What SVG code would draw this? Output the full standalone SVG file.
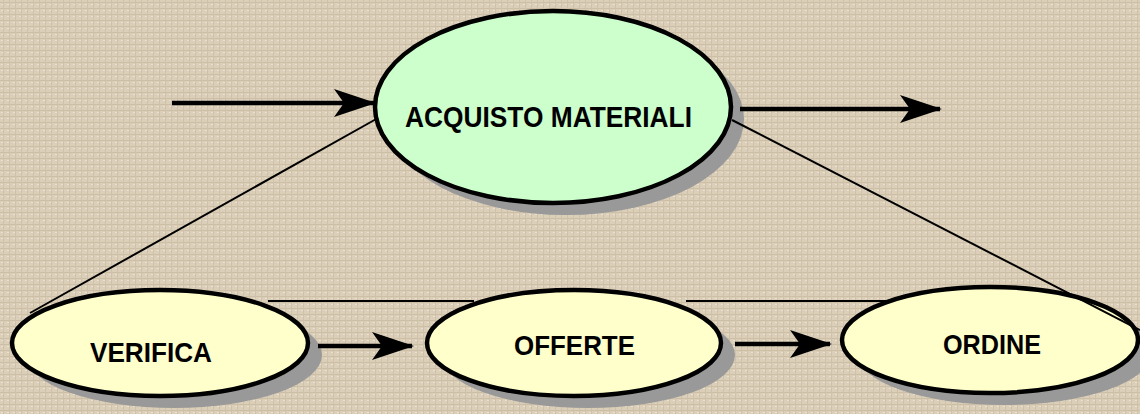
<svg xmlns="http://www.w3.org/2000/svg" width="1140" height="414" viewBox="0 0 1140 414">
<defs>
<pattern id="tex" width="6" height="6" patternUnits="userSpaceOnUse">
<rect width="6" height="6" fill="#dccfb9"/>
<rect x="0" y="2" width="6" height="1" fill="#cdbfa6"/>
<rect x="3" y="0" width="1" height="6" fill="#cfc2aa"/>
<rect x="1" y="4" width="2" height="1" fill="#ebe1ce"/>
</pattern>
<marker id="ah" markerUnits="userSpaceOnUse" markerWidth="42" markerHeight="28" refX="40" refY="14" orient="auto" viewBox="0 0 42 28">
<path d="M0,0 L42,14 L0,28 L10,14 z" fill="#000"/>
</marker>
</defs>
<style>
.sh{fill:#999999}
.top{fill:#ccffcc;stroke:#000;stroke-width:4.5}
.bot{fill:#ffffcc;stroke:#000;stroke-width:4.5}
.lbl{font-family:"Liberation Sans",Arial,sans-serif;font-weight:bold;fill:#000}
.ln{stroke:#000;stroke-width:2;fill:none}
.ar{stroke:#000;stroke-width:4.5;fill:none;marker-end:url(#ah)}
</style>
<rect width="1140" height="414" fill="url(#tex)"/>
<g id="acquisto">
<ellipse class="sh" cx="566" cy="119" rx="178" ry="96"/>
<ellipse class="top" cx="553" cy="107" rx="178" ry="96"/>
<text class="lbl" x="405" y="127" font-size="30" textLength="287" lengthAdjust="spacingAndGlyphs">ACQUISTO MATERIALI</text>
</g>
<g id="verifica">
<ellipse class="sh" cx="174" cy="355" rx="148" ry="53"/>
<ellipse class="bot" cx="160" cy="343" rx="148" ry="53"/>
<text class="lbl" x="90" y="362" font-size="28" textLength="122" lengthAdjust="spacingAndGlyphs">VERIFICA</text>
</g>
<g id="offerte">
<ellipse class="sh" cx="588" cy="355" rx="147" ry="53"/>
<ellipse class="bot" cx="574" cy="343" rx="147" ry="53"/>
<text class="lbl" x="514" y="355" font-size="28" textLength="121" lengthAdjust="spacingAndGlyphs">OFFERTE</text>
</g>
<g id="ordine">
<ellipse class="sh" cx="1004" cy="352" rx="148" ry="53"/>
<ellipse class="bot" cx="990" cy="340" rx="148" ry="53"/>
<text class="lbl" x="943" y="354" font-size="28" textLength="98" lengthAdjust="spacingAndGlyphs">ORDINE</text>
</g>
<g id="connectors">
<line class="ln" x1="378" y1="118" x2="30" y2="313"/>
<line class="ln" x1="732" y1="120" x2="1140" y2="330"/>
<line class="ln" x1="268" y1="301" x2="474" y2="301"/>
<line class="ln" x1="686" y1="301" x2="888" y2="301"/>
<line class="ar" x1="172" y1="103" x2="374" y2="103"/>
<line class="ar" x1="740" y1="109" x2="940" y2="109"/>
<line class="ar" x1="318" y1="346" x2="412" y2="346"/>
<line class="ar" x1="735" y1="344" x2="830" y2="344"/>
</g>
</svg>
